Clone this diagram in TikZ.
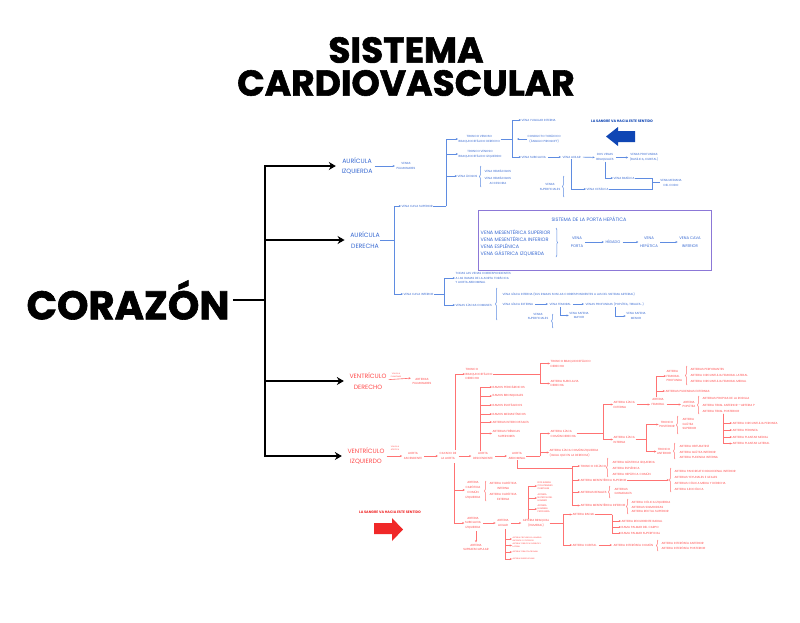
\documentclass[tikz,border=0pt]{standalone}
\usepackage{fontspec}
\setmainfont{Poppins}
\newfontfamily\heavyfont{Poppins}[BoldFeatures={FakeBold=1.6}]
\usepackage{tikz}
\usetikzlibrary{arrows.meta,positioning,decorations.pathreplacing}

\definecolor{cblue}{RGB}{55,105,210}
\definecolor{cbline}{RGB}{95,140,225}
\definecolor{cbdark}{RGB}{15,70,180}
\definecolor{cred}{RGB}{255,75,75}
\definecolor{crline}{RGB}{255,115,115}
\definecolor{crdark}{RGB}{240,40,40}
\definecolor{cpurp}{RGB}{140,120,215}

\newcommand\fxs{\fontsize{1.9}{3}\selectfont}
\newcommand\fts{\fontsize{2.3}{2.9}\selectfont}
\newcommand\fsm{\fontsize{2.95}{4.8}\selectfont}
\newcommand\fnt{\fontsize{3.5}{4.8}\selectfont}
\newcommand\fpt{\fontsize{3.8}{7.5}\selectfont}
\newcommand\fmd{\fontsize{4.9}{7}\selectfont}
\newcommand\flg{\fontsize{6.2}{10.5}\selectfont}

\begin{document}
\begin{tikzpicture}[x=1pt, y=-1pt, >={Stealth[length=2.2pt,width=2pt]},
  bt/.style={text=cblue, font=\fsm, align=center, inner sep=0.5pt},
  rt/.style={text=cred, font=\fsm, align=center, inner sep=0.5pt},
  bm/.style={bt, font=\flg}, rm/.style={rt, font=\flg},
  bl/.style={draw=cbline, line width=0.6pt},
  rl/.style={draw=crline, line width=0.6pt},
  nx/.style={shorten <=1.5pt, shorten >=1pt},
  brc/.style={decorate, decoration={brace, amplitude=1.5pt}, line width=0.5pt},
  ttl/.style={font=\heavyfont\fontsize{36}{36}\selectfont\bfseries},
  blk/.style={line width=2.4pt, -{Stealth[length=7pt,width=8pt]}}]
  \fill[white] (0,0) rectangle (800,622);
  \useasboundingbox (0,0) rectangle (800,622);

  % titulo y corazon
  \node[ttl] (sis) at (406,50) {SISTEMA};
  \node[ttl] (car) at (406,83) {CARDIOVASCULAR};
  \node[font=\heavyfont\fontsize{40}{40}\selectfont\bfseries] (cor) at (128,300) {CORAZÓN};

  \node[bm] (ai) at (357,166) {AURÍCULA\\IZQUIERDA};
  \node[bm] (ad) at (365,240) {AURÍCULA\\DERECHA};
  \node[rm] (vd) at (368,381) {VENTRÍCULO\\DERECHO};
  \node[rm] (vi) at (366,456) {VENTRÍCULO\\IZQUIERDO};

  \coordinate (hub) at (265,300);
  \draw[line width=2.4pt] (cor.east) -- (hub);
  \foreach \n in {ai,ad,vd,vi} \draw[blk, shorten >=5pt] (hub) |- (\n.west);

  % auricula izquierda
  \node[bt] (vp) at (406,166) {VENAS\\PULMONARES};
  \draw[bl,->,nx] (ai) -- (vp);

  % auricula derecha
  \node[bt,anchor=west] (vcs) at (401,206) {VENA CAVA SUPERIOR};
  \node[bt,anchor=west] (vci) at (403,294) {VENA CAVA INFERIOR};
  \coordinate (j1) at (394,240);
  \draw[bl] (ad.east) -- (j1);
  \draw[bl,->] (j1) |- (vcs.west);
  \draw[bl,->] (j1) |- (vci.west);

  % vena cava superior
  \node[bt,anchor=west] (tvd) at (458,139) {TRONCO VENOSO\\BRAQUIOCEFÁLICO DERECHO};
  \node[bt,anchor=west] (tvi) at (458,154) {TRONCO VENOSO\\BRAQUIOCEFÁLICO IZQUIERDO};
  \node[bt,anchor=west] (aci) at (457,176) {VENA ÁCIGOS};
  \coordinate (j2) at (446,206);
  \draw[bl] (vcs.east) -- (j2);
  \foreach \n in {tvd,tvi,aci} \draw[bl,->] (j2) |- (\n.west);
  \node[bt,anchor=west] (hem) at (484,171) {VENA HEMIÁCIGOS};
  \node[bt,anchor=west] (hea) at (484,181) {VENA HEMIÁCIGOS\\ACCESORIA};
  \draw[bl,brc] (481,187) -- (481,166);

  \coordinate (j3) at (512,139);
  \draw[bl] (tvd.east) -- (j3);
  \node[bt,anchor=west] (yug) at (521,120) {VENA YUGULAR INTERNA};
  \node[bt,anchor=west] (cto) at (527,139) {CONDUCTO TORÁCICO\\(ÁNGULO PIROGOFF)};
  \node[bt,anchor=west] (sub) at (521,157) {VENA SUBCLAVIA};
  \draw[bl,->] (j3) |- (yug.west);
  \draw[bl,->] (j3) |- (sub.west);
  \draw[bl,->,shorten >=5pt] (cto.west) -- (j3);
  \node[bt,anchor=west] (axv) at (562,157) {VENA AXILAR};
  \node[bt] (dvb) at (605,157.5) {DOS VENAS\\BRAQUIALES};
  \node[bt] (vpr) at (644,157.5) {VENAS PROFUNDAS\\(BASÍLICA, CUBITAL)};
  \draw[bl,->,nx] (sub) -- (axv);
  \draw[bl,->,nx] (axv) -- (dvb);
  \draw[bl,->,nx] (dvb) -- (vpr);
  \node[bt,anchor=west] (bas) at (613,178) {VENA BASÍLICA};
  \node[bt,anchor=west] (cef) at (586,189) {VENA CEFÁLICA};
  \node[bt] (med) at (671,183) {VENA MEDIANA\\DEL CODO};
  \draw[bl,->] (dvb.south) |- (bas.west);
  \draw[bl,->] (axv.south) |- (cef.west);
  \coordinate (j4) at (652,182);
  \draw[bl] (bas.east) -| (j4);
  \draw[bl] (cef.east) -| (j4);
  \draw[bl] (j4) -- (med.west |- j4);
  \node[bt] (vsf) at (550,187) {VENAS\\SUPERFICIALES};
  \draw[bl,brc] (564,197) -- (564,176);

  \node[bt,font=\fnt\bfseries,text=cbdark] (bnote) at (622,121) {LA SANGRE VA HACIA ESTE SENTIDO};
  \fill[cbdark] (635,131) -- (618,131) -- (618,127) -- (606,136.5) -- (618,146) -- (618,142) -- (635,142) -- cycle;

  % porta hepatica
  \node[draw=cpurp, line width=0.8pt, minimum width=233pt, minimum height=60pt, inner sep=0pt] (ptl) at (594.5,240.5) {};
  \node[bt,font=\fmd] (ptt) at (589,219) {SISTEMA DE LA PORTA HEPÁTICA};
  \node[bt,font=\fmd,align=left,anchor=west] (pls) at (480,243) {VENA MESENTÉRICA SUPERIOR\\VENA MESENTÉRICA INFERIOR\\VENA ESPLÉNICA\\VENA GÁSTRICA IZQUIERDA};
  \draw[bl,brc] (556,228) -- (556,257);
  \node[bt,font=\fpt] (vpo) at (577,242) {VENA\\PORTA};
  \node[bt,font=\fpt] (hig) at (613,242) {HÍGADO};
  \node[bt,font=\fpt] (vhe) at (649,242) {VENA\\HEPÁTICA};
  \node[bt,font=\fpt] (vca) at (690,242) {VENA CAVA\\INFERIOR};
  \draw[bl,->,nx] (vpo) -- (hig);
  \draw[bl,->,nx] (hig) -- (vhe);
  \draw[bl,->,nx] (vhe) -- (vca);

  % vena cava inferior
  \coordinate (j5) at (444,294);
  \draw[bl] (vci.east) -- (j5);
  \node[bt,anchor=west,align=left] (tvc) at (455,278) {TODAS LAS VENAS CORRESPONDIENTES\\A LAS RAMAS DE LA AORTA TORÁCICA\\Y AORTA ABDOMINAL};
  \node[bt,anchor=west] (vic) at (455,305) {VENAS ILÍACAS COMUNES};
  \draw[bl,->] (j5) |- (tvc.west);
  \draw[bl,->] (j5) |- (vic.west);
  \draw[bl,brc] (497,320) -- (497,288);
  \node[bt,anchor=west] (vii) at (502,294) {VENA ILÍACA INTERNA (SUS RAMAS SON LAS  CORRESPONDIENTES A LAS DEL SISTEMA ARTERIAL)};
  \node[bt,anchor=west] (vie) at (502,304) {VENA ILÍACA EXTERNA};
  \node[bt,anchor=west] (vfe) at (549,304) {VENA FEMORAL};
  \node[bt,anchor=west] (vpp) at (585,304) {VENAS PROFUNDAS (POPLÍTEA, TIBIALES...)};
  \draw[bl,->,nx] (vie) -- (vfe);
  \draw[bl,->,nx] (vfe) -- (vpp);
  \node[bt] (ssm) at (579,315.5) {VENA SAFENA\\MAYOR};
  \node[bt] (ssn) at (636,316) {VENA SAFENA\\MENOR};
  \coordinate (j6) at (560,307);
  \coordinate (j7) at (615,307);
  \draw[bl,->] (j6) |- (ssm.west);
  \draw[bl,->] (j7) |- (ssn.west);
  \node[bt] (vsi) at (538,316.5) {VENAS\\SUPERFICIALES};
  \draw[bl,brc] (553,328) -- (553,314);

  % ventriculo derecho
  \node[rt,font=\fxs] (vpu) at (396,375) {VÁLVULA\\PULMONAR};
  \node[rt] (apu) at (422,381.5) {ARTERIAS\\PULMONARES};
  \draw[rl,->,nx] (vd) -- (vpu.south -| apu.west);

  % ventriculo izquierdo
  \node[rt,font=\fxs] (vao) at (395,448.5) {VÁLVULA\\AÓRTICA};
  \node[rt] (aas) at (413,456) {AORTA\\ASCENDENTE};
  \node[rt] (cay) at (448,456) {CAYADO DE\\LA AORTA};
  \node[rt] (ade) at (483,456) {AORTA\\DESCENDENTE};
  \node[rt] (aab) at (517,456) {AORTA\\ABDOMINAL};
  \draw[rl,->,nx] (vi) -- (aas);
  \draw[rl,->,nx] (aas) -- (cay);
  \draw[rl,->,nx] (cay) -- (ade);
  \draw[rl,->,nx] (ade) -- (aab);

  % cayado
  \node[rt,anchor=west,align=left] (tbd) at (465,374) {TRONCO\\BRAQUIOCEFÁLICO\\DERECHO};
  \coordinate (jc) at (455,450);
  \draw[rl,->] (jc) |- (tbd.west);
  \coordinate (jt) at (540,374);
  \draw[rl] (tbd.east) -- (jt);
  \node[rt,anchor=west,align=left] (tbd2) at (550,363.5) {TRONCO BRAQUIOCEFÁLICO\\DERECHO};
  \node[rt,anchor=west,align=left] (asd) at (550,383.5) {ARTERIA SUBCLAVIA\\DERECHA};
  \draw[rl,->] (jt) |- (tbd2.west);
  \draw[rl,->] (jt) |- (asd.west);

  % aorta toracica
  \coordinate (jd) at (480,451);
  \foreach \n/\y/\t in {rpe/387/RAMOS PERICÁRDICOS, rbr/396/RAMOS BRONQUIALES,
      res/405/RAMOS ESOFÁGICOS, rme/414/RAMOS MEDIASTÍNICOS,
      ain/422/ARTERIAS INTERCOSTALES, afs/433.5/{ARTERIAS FRÉNICAS\\SUPERIORES}} {
    \node[rt,anchor=west] (\n) at (492,\y) {\t};
    \draw[rl,->] (jd) |- (\n.west);
  }

  % carotida y subclavia
  \coordinate (jc2) at (454,463);
  \node[rt] (cci) at (473,490) {ARTERIA\\CARÓTIDA\\COMÚN\\IZQUIERDA};
  \node[rt] (sci) at (473,523) {ARTERIA\\SUBCLAVIA\\IZQUIERDA};
  \draw[rl,->] (jc2) |- (cci.west);
  \draw[rl,->] (jc2) |- (sci.west);
  \draw[rl,brc] (486,501) -- (486,481);
  \node[rt,anchor=west] (cin) at (489,486) {ARTERIA CARÓTIDA\\INTERNA};
  \node[rt,anchor=west] (cex) at (489,496.5) {ARTERIA CARÓTIDA\\EXTERNA};
  \node[rt] (sup) at (476,547.5) {ARTERIA\\SUPRAESCAPULAR};
  \draw[rl,->,nx] (sci.south -| sup.north) -- (sup.north);
  \node[rt] (axa) at (503,523) {ARTERIA\\AXILAR};
  \node[rt] (bra) at (536,523) {ARTERIA BRAQUIAL\\(HUMERAL)};
  \draw[rl,->,nx] (sci) -- (axa);
  \draw[rl,->,nx] (axa) -- (bra);

  \coordinate (jx) at (505,529);
  \foreach \n/\y/\t in {ach/539/{ARTERIA CIRCUNFLEJA HUMERAL\\ANTERIOR Y POSTERIOR},
      ats/545.5/{ARTERIA TORÁCICA SUPERIOR Y\\LATERAL}, atc/552/ARTERIA TORACOACROMIAL,
      asb/559/ARTERIA SUBESCAPULAR} {
    \node[rt,font=\fxs,anchor=west,align=left] (\n) at (512,\y) {\t};
    \draw[rl,->] (jx) |- (\n.west);
  }
  \coordinate (jb) at (528,519);
  \foreach \n/\y/\t in {drc/486/{DOS RAMAS\\COLATERALES\\CUBITALES},
      anh/498/{ARTERIA\\NUTRICIA DEL\\HÚMERO}, ahp/509/{ARTERIA\\HUMERAL\\PROFUNDA}} {
    \node[rt,font=\fts,anchor=west,align=left] (\n) at (537,\y) {\t};
    \draw[rl,->] (jb) |- (\n.west);
  }

  \coordinate (jbr) at (563,523);
  \draw[rl] (bra.east) -- (jbr);
  \node[rt,anchor=west] (ara) at (572,514.5) {ARTERIA RADIAL};
  \node[rt,anchor=west] (acu) at (572,545) {ARTERIA CUBITAL};
  \draw[rl,->] (jbr) |- (ara.west);
  \draw[rl,->] (jbr) |- (acu.west);
  \coordinate (jr) at (612,514.5);
  \draw[rl] (ara.east) -- (jr);
  \foreach \n/\y/\t in {arr/521/ARTERIA RECURRENTE RADIAL, rpc/527/RAMA PALMAR DEL CARPO,
      rps/533/RAMA PALMAR SUPERFICIAL} {
    \node[rt,anchor=west] (\n) at (621,\y) {\t};
    \draw[rl,->] (jr) |- (\n.west);
  }
  \node[rt,anchor=west] (aic) at (613,545) {ARTERIA INTERÓSEA COMÚN};
  \draw[rl,->,nx] (acu) -- (aic);
  \draw[rl,brc] (658,551) -- (658,540);
  \node[rt,anchor=west] (aia) at (661,543) {ARTERIA INTERÓSEA ANTERIOR};
  \node[rt,anchor=west] (aip) at (661,548.5) {ARTERIA INTERÓSEA POSTERIOR};

  % aorta abdominal
  \coordinate (ja) at (540,456);
  \draw[rl] (aab.east) -- (ja);
  \node[rt,anchor=west,align=left] (aicd) at (550,433.5) {ARTERIA ILÍACA\\COMÚN DERECHA};
  \node[rt,anchor=west,align=left] (aici) at (549,452.5) {ARTERIA ILÍACA COMÚN IZQUIERDA\\(IGUAL QUE EN LA DERECHA)};
  \draw[rl,->] (ja) |- (aicd.west);
  \draw[rl,->] (ja) |- (aici.west);

  \coordinate (jab) at (572,468);
  \draw[rl] (aab.south) |- (jab);
  \foreach \n/\y/\t in {tce/466/TRONCO CELÍACO, ams/480/ARTERIA MESENTÉRICA SUPERIOR,
      are/492/ARTERIAS RENALES, ami/505.5/ARTERIA MESENTÉRICA INFERIOR} {
    \node[rt,anchor=west] (\n) at (580,\y) {\t};
    \draw[rl,->] (jab) |- (\n.west);
  }
  \draw[rl,brc] (608,477) -- (608,458);
  \node[rt,anchor=west] (agi) at (612,462) {ARTERIA GÁSTRICA IZQUIERDA};
  \node[rt,anchor=west] (aes) at (612,468) {ARTERIA ESPLÉNICA};
  \node[rt,anchor=west] (ahc) at (612,474) {ARTERIA HEPÁTICA COMÚN};
  \coordinate (jms) at (669,480);
  \draw[rl,->] (ams.east) -- (jms);
  \draw[rl,brc] (671,492) -- (671,468);
  \node[rt,anchor=west] (apd) at (674,471) {ARTERIA PANCREATICODUODENAL INFERIOR};
  \node[rt,anchor=west] (ayi) at (674,477) {ARTERIAS YEYUNALES E ILEALES};
  \node[rt,anchor=west] (acm) at (674,483) {ARTERIAS CÓLICA MEDIA Y DERECHA};
  \node[rt,anchor=west] (ail) at (674,489) {ARTERIA ILEOCÓLICA};
  \draw[rl,brc] (610,498) -- (610,486);
  \node[rt,anchor=west,align=left] (ago) at (614,491.5) {ARTERIAS\\GONADALES};
  \draw[rl,brc] (628,514) -- (628,499);
  \node[rt,anchor=west] (acz) at (631,502) {ARTERIA CÓLICA IZQUIERDA};
  \node[rt,anchor=west] (asg) at (631,507) {ARTERIAS SIGMOIDEAS};
  \node[rt,anchor=west] (ars) at (631,511.5) {ARTERIA RECTAL SUPERIOR};

  % iliaca comun derecha
  \coordinate (ji) at (603,433.5);
  \draw[rl] (aicd.east) -- (ji);
  \node[rt,anchor=west,align=left] (aie) at (613,404.5) {ARTERIA ILÍACA\\EXTERNA};
  \node[rt,anchor=west,align=left] (aii) at (613,439.5) {ARTERIA ILÍACA\\INTERNA};
  \draw[rl,->] (ji) |- (aie.west);
  \draw[rl,->] (ji) |- (aii.west);
  \node[rt] (afe) at (658,402) {ARTERIA\\FEMORAL};
  \draw[rl,->,nx] (aie.east) -- (aie.east -| afe.west);
  \node[rt,anchor=west,align=left] (afp) at (666,376) {ARTERIA\\FEMORAL\\PROFUNDA};
  \node[rt,anchor=west] (apx) at (665,391) {ARTERIAS PUDENDAS EXTERNAS};
  \coordinate (jf) at (656,397);
  \draw[rl,->] (jf) |- (afp.west);
  \draw[rl,->] (jf) |- (apx.west);
  \draw[rl,brc] (687,385) -- (687,366);
  \node[rt,anchor=west] (ape) at (690,369) {ARTERIAS PERFORANTES};
  \node[rt,anchor=west] (acl) at (690,375) {ARTERIA CIRCUNFLEJA FEMORAL LATERAL};
  \node[rt,anchor=west] (acd) at (690,381) {ARTERIA CIRCUNFLEJA FEMORAL MEDIAL};
  \node[rt] (apo) at (689,404.5) {ARTERIA\\POPLÍTEA};
  \draw[rl,->,nx] (afe.east |- aie.east) -- (aie.east -| apo.west);
  \draw[rl,brc] (699,414) -- (699,396);
  \node[rt,anchor=west] (apr) at (702,398) {ARTERIAS PROPIAS DE LA RODILLA};
  \node[rt,anchor=west] (ata) at (702,405) {ARTERIA TIBIAL ANTERIOR —ARTERIA P};
  \node[rt,anchor=west] (atp) at (702,411) {ARTERIA TIBIAL POSTERIOR};
  \coordinate (jtp) at (723,413.5);
  \foreach \n/\y/\t in {acp/423/ARTERIA CIRCUNFLEJA PERONEA, apn/430/ARTERIA PERONEA,
      apm/437/ARTERIA PLANTAR MEDIAL, apl/443.5/ARTERIA PLANTAR LATERAL} {
    \node[rt,anchor=west] (\n) at (732,\y) {\t};
    \draw[rl,->] (jtp) |- (\n.west);
  }

  \coordinate (jii) at (646,439.5);
  \draw[rl] (aii.east) -- (jii);
  \node[rt] (tpo) at (667,424.5) {TRONCO\\POSTERIOR};
  \node[rt] (tan) at (664,451.5) {TRONCO\\ANTERIOR};
  \draw[rl,->] (jii) |- (tpo.west);
  \draw[rl,->] (jii) |- (tan.west);
  \draw[rl,brc] (678,434) -- (678,416);
  \node[rt,anchor=west,align=left] (ags) at (682,424) {ARTERIA\\GLÚTEA\\SUPERIOR};
  \draw[rl,brc] (675,459) -- (675,443);
  \node[rt,anchor=west] (aob) at (679,446) {ARTERIA OBTURATRIZ};
  \node[rt,anchor=west] (agn) at (679,452) {ARTERIA GLÚTEA INFERIOR};
  \node[rt,anchor=west] (apj) at (679,457) {ARTERIA PUDENDA INTERNA};

  \node[rt,font=\fnt\bfseries,text=crdark] (rnote) at (390,512) {LA SANGRE VA HACIA ESTE SENTIDO};
  \fill[crdark] (374,523) -- (392,523) -- (392,518) -- (403,529.5) -- (392,541) -- (392,534) -- (374,534) -- cycle;
\end{tikzpicture}
\end{document}
